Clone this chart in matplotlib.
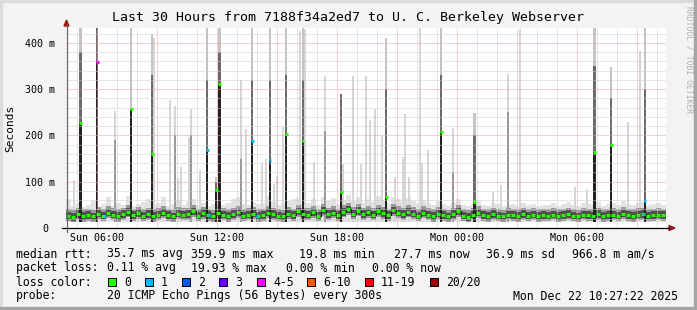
import numpy as np
import matplotlib.pyplot as plt
from matplotlib.patches import Rectangle, Polygon
from matplotlib.lines import Line2D

plt.rcParams['font.family'] = ['DejaVu Sans Mono']

W, H = 697, 310

# time axis: hours since Sun 00:00, last 30 hours ending Mon 10:27:22
t_end = 24 + 10 + 27/60 + 22/3600
t_start = t_end - 30

# baseline median rtt (ms), one value per 15 minutes
base_med = [27, 24, 30, 26, 28, 25, 31, 27, 33, 29, 26, 30, 35, 28, 32, 27, 30, 26, 29, 33, 28, 25, 31, 29,
            30, 36, 27, 32, 28, 25, 33, 29, 26, 30, 34, 27, 29, 31, 26, 28, 33, 30, 27, 25, 31, 28, 36, 30,
            29, 34, 27, 38, 30, 33, 28, 35, 40, 31, 37, 30, 34, 29, 36, 32, 28, 38, 33, 30, 35, 31, 27, 33,
            29, 26, 31, 28, 25, 30, 36, 27, 24, 29, 33, 28, 26, 30, 27, 25, 29, 28, 26, 30, 27, 29, 26, 28,
            27, 29, 26, 28, 30, 27, 25, 29, 28, 27, 30, 26, 28, 29, 27, 31, 28, 26, 29, 30, 27, 28, 29, 28]
# top of the light smoke around the baseline (ms)
base_hi = [62, 48, 55, 45, 50, 58, 46, 52, 66, 48, 54, 50, 70, 47, 52, 57, 63, 50, 54, 66, 48, 52, 60, 50,
           57, 62, 50, 54, 48, 52, 58, 50, 54, 62, 66, 52, 50, 57, 52, 54, 70, 56, 50, 54, 58, 62, 64, 52,
           54, 62, 50, 66, 58, 64, 52, 60, 72, 58, 66, 54, 62, 56, 70, 60, 54, 66, 62, 56, 64, 58, 52, 60,
           54, 50, 58, 52, 48, 54, 62, 50, 47, 52, 58, 50, 48, 54, 52, 47, 50, 52, 48, 54, 50, 52, 47, 50,
           50, 54, 48, 52, 56, 50, 47, 54, 52, 50, 56, 48, 52, 54, 50, 58, 52, 50, 54, 56, 50, 52, 54, 50]
# baseline steps with 1/20 loss
loss1_t = [6.42, 11.6, 14.0, 33.3]

# steps where the median jumped up
spike_t = [5.19, 6.02, 7.72, 8.77, 11.52, 11.97, 12.14, 13.77, 14.66, 15.47, 16.31, 18.22,
           20.47, 23.22, 24.89, 30.89, 31.72, 33.41]
spike_med = [227, 359, 256, 160, 168, 82, 311, 188, 147, 203, 188, 77, 66, 207, 56, 165, 180, 59]
spike_q = [380, 440, 256, 330, 320, 100, 380, 320, 320, 330, 320, 289, 300, 330, 200, 350, 280, 300]
spike_max = [440, 440, 440, 420, 440, 110, 440, 440, 440, 440, 440, 289, 410, 440, 248, 440, 347, 440]
spike_loss = [0, 4, 0, 0, 1, 0, 0, 1, 1, 0, 0, 0, 0, 0, 0, 0, 0, 1]

# steps with a few slow pings but normal median
light_t = [4.86, 6.89, 8.85, 9.66, 9.89, 10.05, 10.22, 10.60, 10.69, 11.14,
           13.22, 13.47, 14.25, 14.45, 14.85, 15.00, 15.31, 16.14, 16.40, 16.86,
           17.39, 18.30, 18.82, 19.20, 19.47, 19.64, 19.90, 20.25, 20.90, 21.30,
           21.39, 21.60, 22.16, 22.25, 22.56, 23.81, 25.81, 26.20, 26.56, 27.16,
           29.89, 30.49, 32.56, 33.14]
light_max = [104, 253, 410, 276, 264, 107, 132, 197, 257, 125,
             320, 214, 140, 150, 95, 113, 218, 425, 430, 142,
             329, 138, 329, 138, 329, 233, 257, 199, 110, 154,
             246, 110, 440, 140, 168, 216, 77, 93, 332, 430,
             89, 84, 228, 383]
light_q = [0, 190, 0, 0, 200, 0, 0, 0, 200, 0,
           150, 0, 0, 0, 0, 0, 0, 0, 0, 0,
           210, 0, 0, 0, 0, 0, 0, 0, 0, 0,
           0, 0, 0, 0, 0, 120, 0, 0, 250, 0,
           0, 0, 0, 0]

loss_labels = ['0', '1', '2', '3', '4-5', '6-10', '11-19', '20/20']
loss_colors = ['#26ff00', '#00b8ff', '#0059ff', '#6a00ff', '#ff00ff', '#ff5500', '#ff0000', '#a10000']

tick_hours = [6, 12, 18, 24, 30]
tick_labels = ['Sun 06:00', 'Sun 12:00', 'Sun 18:00', 'Mon 00:00', 'Mon 06:00']


def fx(x):
    return x / W


def fy(y):
    return 1 - y / H


fig = plt.figure(figsize=(W / 100, H / 100), dpi=100, facecolor='#f3f3f3')
ax = fig.add_axes([fx(66), fy(228), 600 / W, 200 / H])
ax.set_facecolor('white')
ax.set_xlim(t_start, t_end)
ax.set_ylim(0, 432)

# baseline smoke
base_t = t_start + 0.25 * np.arange(len(base_med))
med = np.array(base_med)
hi = np.array(base_hi)
ax.bar(base_t, hi - 14, bottom=14, width=0.25, align='edge', color='#e2e2e2', lw=0, zorder=1)
ax.bar(base_t, 26, bottom=med - 12, width=0.25, align='edge', color='#999999', lw=0, zorder=2)
ax.bar(base_t, 16, bottom=med - 8, width=0.25, align='edge', color='#505050', lw=0, zorder=2)

# light smoke spikes
lt = np.array(light_t)
lmax = np.array(light_max)
lq = np.array(light_q)
ax.bar(lt, lmax - 14, bottom=14, width=0.1, color='#d6d6d6', lw=0, zorder=1.5)
m = lq > 0
ax.bar(lt[m], lq[m] - 14, bottom=14, width=0.1, color='#9a9a9a', lw=0, zorder=1.6)

# median spikes
st = np.array(spike_t)
smed = np.array(spike_med)
sq = np.array(spike_q)
smax = np.array(spike_max)
ax.bar(st, smax - smed, bottom=smed, width=0.12, color='#c4c4c4', lw=0, zorder=3)
ax.bar(st, sq - smed, bottom=smed, width=0.12, color='#6a6a6a', lw=0, zorder=3.1)
ax.bar(st, smed - 14, bottom=14, width=0.12, color='#222222', lw=0, zorder=3.2)

# grid
for h in range(5, 35):
    c = '#f0a0a0' if h % 3 == 0 else '#cfcfcf'
    ax.axvline(h, color=c, lw=0.72, ls=(0, (1, 1)), zorder=4)
for v in range(20, 432, 20):
    c = '#f0a0a0' if v % 100 == 0 else '#cfcfcf'
    ax.axhline(v, color=c, lw=0.72, ls=(0, (1, 1)), zorder=4)

# median line coloured by loss
ax.step(base_t, med, where='post', color='#1a1a1a', lw=0.8, zorder=5)
ax.hlines(med, base_t + 0.02, base_t + 0.2, color=loss_colors[0], lw=2.2, zorder=6)
for t in loss1_t:
    i = int((t - t_start) / 0.25)
    ax.hlines(med[i], t - 0.06, t + 0.06, color=loss_colors[1], lw=2.2, zorder=6.1)
for t, v, l in zip(spike_t, spike_med, spike_loss):
    ax.hlines(v, t - 0.07, t + 0.07, color=loss_colors[l], lw=2.2, zorder=6.1)

ax.set_xticks(tick_hours, tick_labels)
ax.set_yticks([0, 100, 200, 300, 400], ['0 ', '100 m', '200 m', '300 m', '400 m'])
ax.tick_params(length=0, labelsize=7.2)
ax.tick_params(axis='x', pad=3.5)
ax.tick_params(axis='y', pad=7.9)
for s in ax.spines.values():
    s.set_visible(False)

# axes lines and arrows
fig.add_artist(Line2D([fx(62), fx(669)], [fy(228), fy(228)], color='black', lw=0.9))
fig.add_artist(Line2D([fx(66.5), fx(66.5)], [fy(232), fy(25)], color='#666666', lw=0.9))
fig.add_artist(Polygon([[fx(669), fy(225.5)], [fx(675), fy(228)], [fx(669), fy(230.5)]],
                       closed=True, color='#9a1a1a', transform=fig.transFigure))
fig.add_artist(Polygon([[fx(64), fy(26)], [fx(66.5), fy(20)], [fx(69), fy(26)]],
                       closed=True, color='#9a1a1a', transform=fig.transFigure))

# frame
fig.add_artist(Rectangle((0, fy(2)), 1, 2 / H, color='#dcdcdc', transform=fig.transFigure))
fig.add_artist(Rectangle((0, 0), 2 / W, 1, color='#dcdcdc', transform=fig.transFigure))
fig.add_artist(Rectangle((0, 0), 1, 3 / H, color='#a5a5a5', transform=fig.transFigure))
fig.add_artist(Rectangle((fx(694), 0), 3 / W, 1, color='#a5a5a5', transform=fig.transFigure))

fig.text(fx(348), fy(18), 'Last 30 Hours from 7188f34a2ed7 to U. C. Berkeley Webserver',
         ha='center', va='center', fontsize=9.5)
fig.text(fx(10), fy(128), 'Seconds', rotation=90, ha='center', va='center', fontsize=8)
fig.text(fx(689), fy(6), 'RRDTOOL / TOBI OETIKER', rotation=270, ha='center', va='top',
         fontsize=5.8, color='#b0b0b0')

fs = 8.3
rows = [
    (254, [(16, 'median rtt:'), (107, '35.7 ms avg'), (191, '359.9 ms max'), (299, '19.8 ms min'),
           (394, '27.7 ms now'), (486, '36.9 ms sd'), (572, '966.8 m am/s')]),
    (268, [(16, 'packet loss:'), (107, '0.11 % avg'), (191, '19.93 % max'), (286, '0.00 % min'),
           (372, '0.00 % now')]),
    (282, [(16, 'loss color:')]),
    (296, [(16, 'probe:'), (107, '20 ICMP Echo Pings (56 Bytes) every 300s'),
           (513, 'Mon Dec 22 10:27:22 2025')]),
]
for y, items in rows:
    for x, s in items:
        fig.text(fx(x), fy(y), s, ha='left', va='center', fontsize=fs)

sq_x = [108, 145, 182, 219, 257, 307, 365, 430]
for x, lab, c in zip(sq_x, loss_labels, loss_colors):
    fig.add_artist(Rectangle((fx(x), fy(286)), 8 / W, 8 / H, facecolor=c, edgecolor='black',
                             lw=0.72, transform=fig.transFigure))
    fig.text(fx(x + 16), fy(282), lab, ha='left', va='center', fontsize=fs)

fig.savefig('out.png', dpi=100, facecolor=fig.get_facecolor())
